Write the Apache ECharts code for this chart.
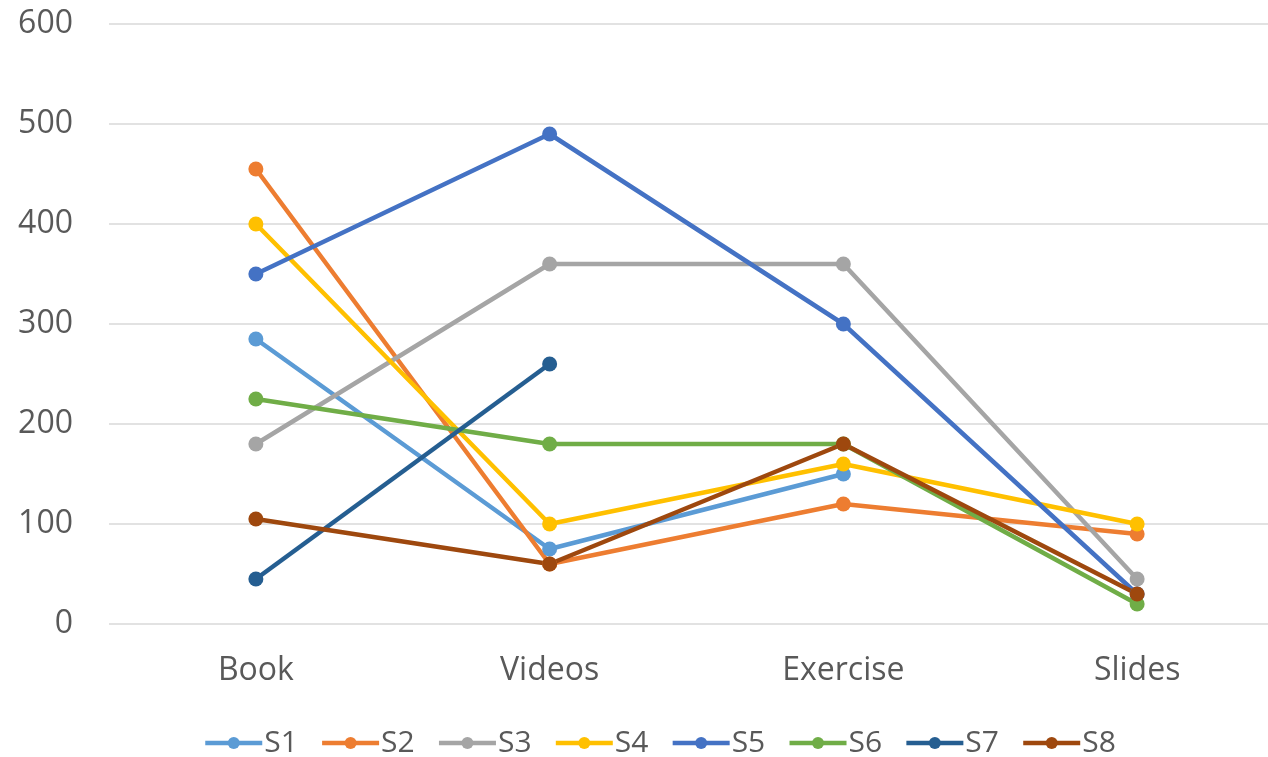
<!DOCTYPE html>
<html>
<head>
<meta charset="utf-8">
<script src="https://cdn.jsdelivr.net/npm/echarts@6/dist/echarts.min.js"></script>
<style>html,body{margin:0;padding:0;background:#fff}#c{width:1268px;height:757px}</style>
</head>
<body>
<div id="c"></div>
<script>
const categories = ['Book', 'Videos', 'Exercise', 'Slides'];
const yTicks = [0, 100, 200, 300, 400, 500, 600];
const seriesNames = ['S1', 'S2', 'S3', 'S4', 'S5', 'S6', 'S7', 'S8'];
const S1 = [285, 75, 150, null];
const S2 = [455, 60, 120, 90];
const S3 = [180, 360, 360, 45];
const S4 = [400, 100, 160, 100];
const S5 = [350, 490, 300, 30];
const S6 = [225, 180, 180, 20];
const S7 = [45, 260, null, null];
const S8 = [105, 60, 180, 30];
const seriesData = [S1, S2, S3, S4, S5, S6, S7, S8];
const colors = ['#5B9BD5', '#ED7D31', '#A5A5A5', '#FFC000', '#4472C4', '#70AD47', '#255E91', '#9E480E'];

const FONT = 'Open Sans';
const chart = echarts.init(document.getElementById('c'), null, {renderer: 'canvas'});
chart.setOption({
  animation: false,
  color: colors,
  grid: {left: 109, width: 1175, top: 24, bottom: 133, containLabel: false, outerBoundsMode: 'none'},
  xAxis: {
    type: 'category',
    data: categories,
    boundaryGap: true,
    axisLine: {show: false},
    axisTick: {show: false},
    axisLabel: {color: '#595959', fontSize: 32, fontFamily: FONT, margin: 31}
  },
  yAxis: {
    type: 'value',
    min: yTicks[0],
    max: yTicks[yTicks.length - 1],
    interval: 100,
    axisLine: {show: false},
    axisTick: {show: false},
    splitLine: {lineStyle: {color: '#D9D9D9', width: 1.5}},
    axisLabel: {color: '#595959', fontSize: 32, fontFamily: FONT, margin: 36}
  },
  legend: {
    data: seriesNames,
    left: 198,
    top: 723,
    itemWidth: 57,
    itemHeight: 15,
    itemGap: 22,
    lineStyle: {width: 4.5},
    textStyle: {color: '#595959', fontSize: 30, fontFamily: FONT, padding: [0, 0, 0, -3]}
  },
  series: seriesNames.map((n, i) => ({
    name: n,
    type: 'line',
    data: seriesData[i],
    symbol: 'circle',
    symbolSize: 15,
    connectNulls: false,
    lineStyle: {width: 4.5, color: colors[i]},
    itemStyle: {color: colors[i]}
  }))
});
</script>
</body>
</html>
